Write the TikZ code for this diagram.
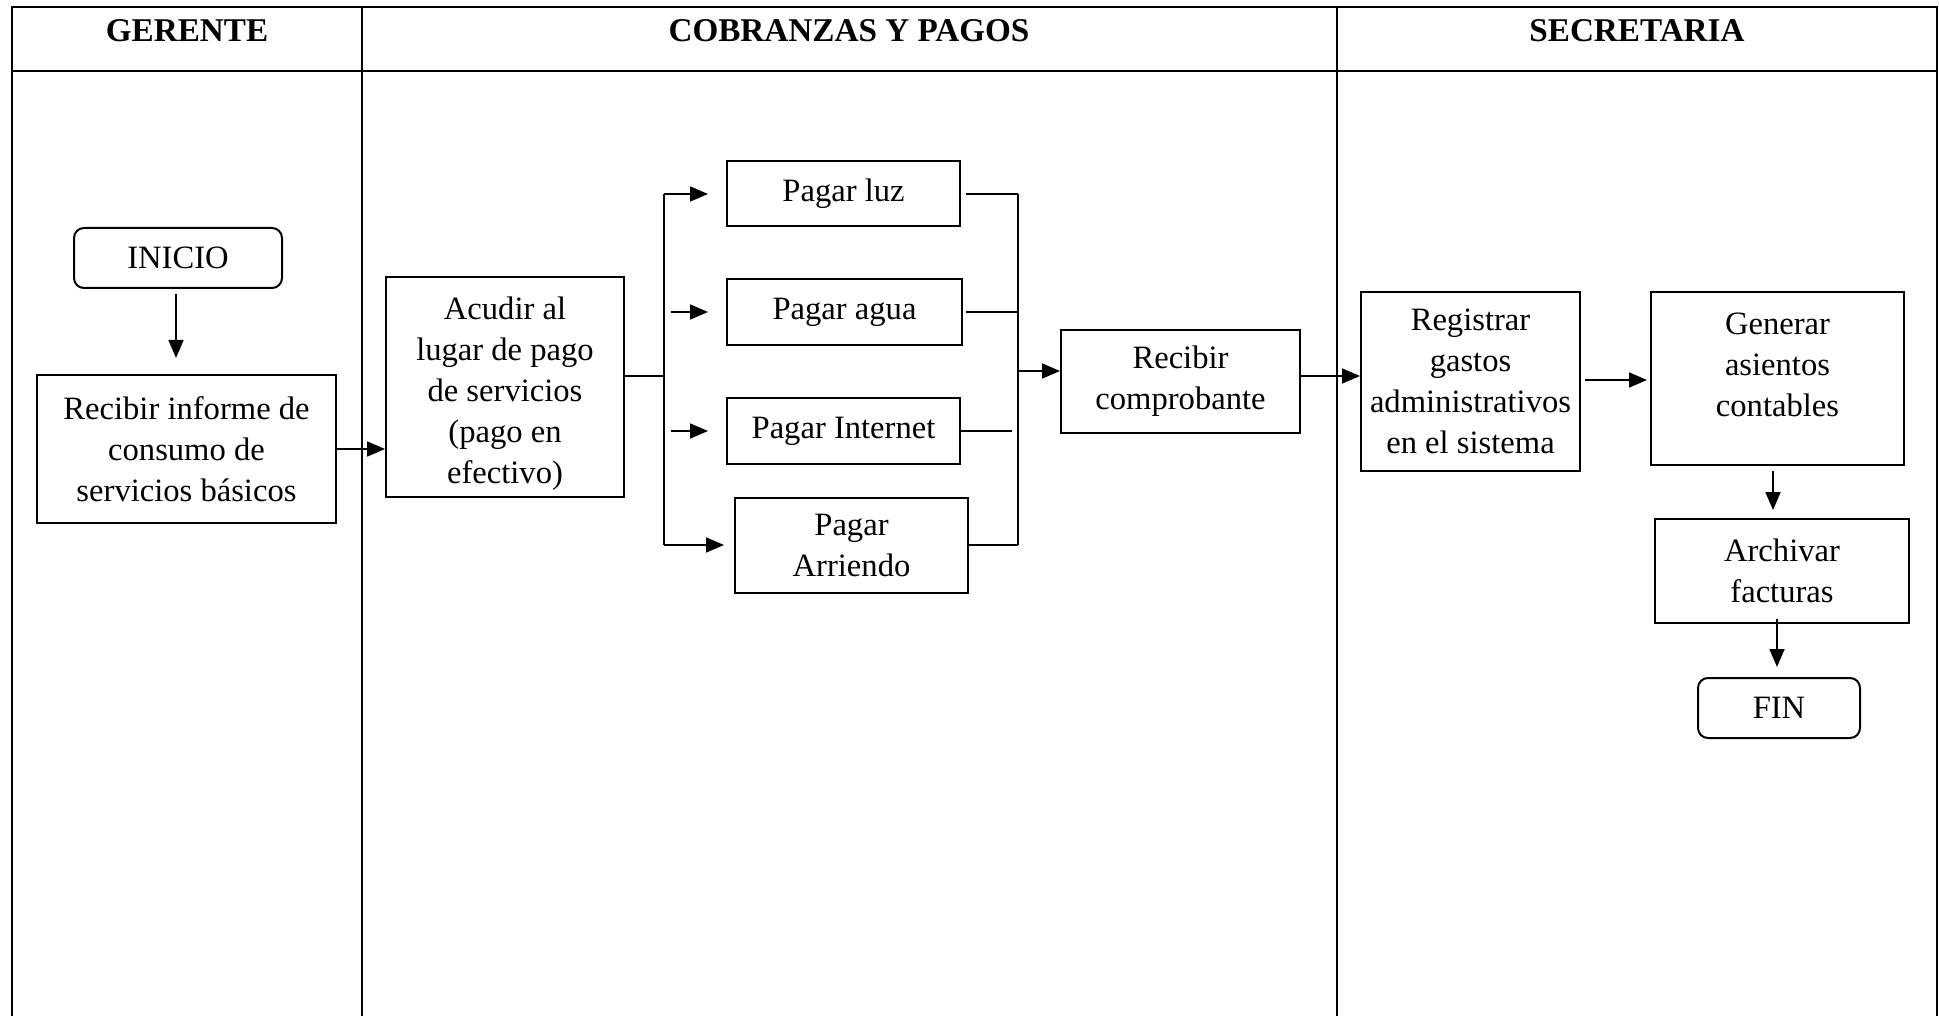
\documentclass[tikz,border=0pt]{standalone}
\usepackage{fontspec}
\setmainfont{Liberation Serif}
\usetikzlibrary{arrows.meta,calc}
\newcommand\bodyfont{\fontsize{16.3}{20.5}\selectfont}
\newcommand\headfont{\fontsize{16.6}{20.5}\selectfont\bfseries}
\tikzset{
  box/.style={draw, line width=1pt, align=center, inner sep=0pt, font=\bodyfont},
  term/.style={box, rounded corners=5pt},
  sz/.style 2 args={minimum width=#1*0.5pt, minimum height=#2*0.5pt},
  conn/.style={line width=0.9pt},
  arr/.style={conn, -{Triangle[length=9pt,width=7.5pt]}},
  frame/.style={line width=1pt},
  head/.style={font=\headfont, inner sep=0pt}
}
\begin{document}
\begin{tikzpicture}[x=0.5pt,y=-0.5pt]
\useasboundingbox (0,0) rectangle (1939,1016);
% frame and lanes
\draw[frame] (12,1016) -- (12,7) -- (1937,7) -- (1937,1016);
\draw[frame] (12,71) -- (1937,71);
\draw[frame] (362,7) -- (362,1016);
\draw[frame] (1337,7) -- (1337,1016);
\node[head] (h1) at (187,31) {GERENTE};
\node[head] (h2) at (849,31) {COBRANZAS Y PAGOS};
\node[head] (h3) at (1637,31) {SECRETARIA};
% nodes
\node[term, sz={208}{60}] (inicio) at (178,258) {INICIO};
\node[box, sz={299}{148}] (recibir) at (186.5,449) {Recibir informe de\\consumo de\\servicios básicos};
\node[box, sz={238}{220}] (acudir) at (505,387) {\rule{0pt}{18pt}Acudir al\\lugar de pago\\de servicios\\(pago en\\efectivo)};
\node[box, sz={233}{65}] (luz) at (843.5,194) {Pagar luz};
\node[box, sz={235}{66}] (agua) at (844.5,312) {Pagar agua};
\node[box, sz={233}{66}] (internet) at (843.5,431) {Pagar Internet};
\node[box, sz={233}{95}] (arriendo) at (851.5,545) {Pagar\\Arriendo};
\node[box, sz={239}{103}] (comp) at (1180.5,381.5) {Recibir\\comprobante};
\node[box, sz={219}{179}] (registrar) at (1470.5,381.5) {Registrar\\gastos\\administrativos\\en el sistema};
\node[box, sz={253}{173}] (generar) at (1777.5,378.5) {Generar\\asientos\\contables\\[-6.5pt]\mbox{}};
\node[box, sz={254}{104}] (archivar) at (1782,571) {Archivar\\facturas};
\node[term, sz={162}{60}] (fin) at (1779,708) {FIN};
% coordinates
\coordinate (split) at (664,376);
\coordinate (merge) at (1018,371);
% connectors
\draw[arr, shorten <=2.5pt, shorten >=8pt] (inicio.south -| 176,0) -- (recibir.north -| 176,0);
\draw[arr] (recibir.east) -- (recibir.east -| acudir.west);
\draw[conn] (split -| acudir.east) -- (split);
\draw[conn] (split |- luz) -- (split |- arriendo);
\draw[arr, shorten >=9pt] (split |- luz) -- (luz.west);
\draw[arr, shorten <=3.5pt, shorten >=9pt] (split |- agua) -- (agua.west);
\draw[arr, shorten <=3.5pt, shorten >=9pt] (split |- internet) -- (internet.west);
\draw[arr, shorten >=5pt] (split |- arriendo) -- (arriendo.west);
\draw[conn, shorten <=2.5pt] (luz.east) -- (luz.east -| merge);
\draw[conn, shorten <=1.5pt] (agua.east) -- (agua.east -| merge);
\draw[conn, shorten >=3pt] (internet.east) -- (internet.east -| merge);
\draw[conn] (arriendo.east) -- (arriendo.east -| merge);
\draw[conn] (luz.east -| merge) -- (arriendo.east -| merge);
\draw[arr] (merge) -- (merge -| comp.west);
\draw[arr] (comp.east |- split) -- (registrar.west |- split);
\draw[arr, shorten <=2pt, shorten >=1.5pt] (registrar.east |- 0,380) -- (generar.west |- 0,380);
\draw[arr, shorten <=2.5pt, shorten >=4pt] (generar.south -| 1773,0) -- (archivar.north -| 1773,0);
\draw[arr, shorten <=-2.5pt, shorten >=5pt] (archivar.south -| 1777,0) -- (fin.north -| 1777,0);
\end{tikzpicture}
\end{document}
